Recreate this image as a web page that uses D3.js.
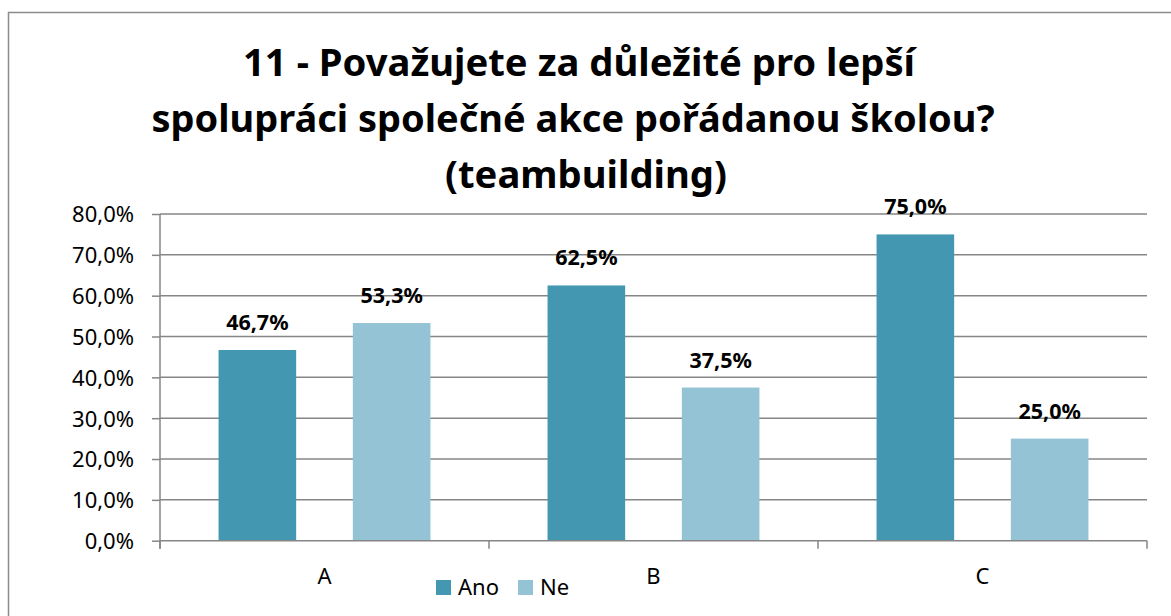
<!DOCTYPE html>
<html>
<head>
<meta charset="utf-8">
<script src="https://cdn.jsdelivr.net/npm/d3@7"></script>
<style>
  body { margin: 0; background: #fff; }
  svg { display: block; font-family: "Noto Sans", sans-serif; }
</style>
</head>
<body>
<div id="chart"></div>
<script>
// chart data
const categories = ["A", "B", "C"];
const seriesNames = ["Ano", "Ne"];
const anoValues = [46.7, 62.5, 75.0];
const neValues = [53.3, 37.5, 25.0];
const yTicks = [0, 10, 20, 30, 40, 50, 60, 70, 80];
const titleLines = [
  "11 - Považujete za důležité pro lepší",
  "spolupráci společné akce pořádanou školou?",
  "(teambuilding)"
];

function createChart() {
  const width = 1171;
  const height = 616;
  const colors = { Ano: "#4397B0", Ne: "#93C3D5" };
  const gridColor = "#868686";

  const svg = d3
    .select("#chart")
    .append("svg")
    .attr("width", width)
    .attr("height", height);

  // outer frame (cut off at the right and bottom like the original)
  svg
    .append("rect")
    .attr("x", 8.5)
    .attr("y", 12.5)
    .attr("width", width + 20)
    .attr("height", height + 20)
    .attr("fill", "none")
    .attr("stroke", "#8c8c8c")
    .attr("stroke-width", 1.5);

  // title
  const titleWidths = [672, 843, 282];
  const titleCenters = [579, 573, 586];
  svg
    .append("g")
    .selectAll("text")
    .data(titleLines)
    .join("text")
    .attr("x", (d, i) => titleCenters[i])
    .attr("y", (d, i) => 76 + i * 56)
    .attr("text-anchor", "middle")
    .attr("font-size", 38)
    .attr("font-weight", "bold")
    .attr("fill", "#000")
    .attr("textLength", (d, i) => titleWidths[i])
    .attr("lengthAdjust", "spacingAndGlyphs")
    .text((d) => d);

  const margin = { left: 160, right: 1147, top: 214, bottom: 540.7 };

  const y = d3.scaleLinear().domain([0, 80]).range([margin.bottom, margin.top]);
  const x0 = d3
    .scaleBand()
    .domain(categories)
    .range([margin.left, margin.right])
    .padding(0);
  const x1 = d3
    .scaleBand()
    .domain(seriesNames)
    .range([0, x0.bandwidth()])
    .paddingInner(0.422)
    .paddingOuter(0.436);

  const fmt = (v) => v.toFixed(1).replace(".", ",") + "%";

  // gridlines
  svg
    .append("g")
    .selectAll("line")
    .data(yTicks.filter((d) => d > 0))
    .join("line")
    .attr("x1", margin.left)
    .attr("x2", margin.right)
    .attr("y1", (d) => y(d))
    .attr("y2", (d) => y(d))
    .attr("stroke", gridColor)
    .attr("stroke-width", 1.5);

  // y axis
  const yAxis = svg
    .append("g")
    .attr("transform", `translate(${margin.left},0)`)
    .call(
      d3.axisLeft(y).tickValues(yTicks).tickSize(8).tickPadding(18).tickFormat(fmt)
    );
  yAxis.select(".domain").attr("stroke", gridColor).attr("stroke-width", 1.5)
    .attr("d", `M0,${margin.top}V${margin.bottom + 8}`);
  yAxis.selectAll(".tick line").attr("stroke", gridColor).attr("stroke-width", 1.5);
  yAxis
    .selectAll(".tick text")
    .attr("font-size", 22)
    .attr("font-family", "Noto Sans, sans-serif")
    .attr("dy", "0.36em")
    .attr("fill", "#000");

  // bars
  const rows = categories.map((c, i) => ({
    cat: c,
    values: [
      { key: "Ano", value: anoValues[i] },
      { key: "Ne", value: neValues[i] }
    ]
  }));

  const groups = svg
    .append("g")
    .selectAll("g")
    .data(rows)
    .join("g")
    .attr("transform", (d) => `translate(${x0(d.cat)},0)`);

  groups
    .selectAll("rect")
    .data((d) => d.values)
    .join("rect")
    .attr("x", (d) => x1(d.key))
    .attr("y", (d) => y(d.value))
    .attr("width", x1.bandwidth())
    .attr("height", (d) => y(0) - y(d.value))
    .attr("fill", (d) => colors[d.key]);

  groups
    .selectAll("text")
    .data((d) => d.values)
    .join("text")
    .attr("x", (d) => x1(d.key) + x1.bandwidth() / 2)
    .attr("y", (d) => y(d.value) - 20)
    .attr("text-anchor", "middle")
    .attr("font-size", 21.5)
    .attr("font-weight", "bold")
    .attr("fill", "#000")
    .text((d) => fmt(d.value));

  // x axis
  const xAxis = svg.append("g");
  xAxis
    .append("line")
    .attr("x1", margin.left)
    .attr("x2", margin.right)
    .attr("y1", margin.bottom)
    .attr("y2", margin.bottom)
    .attr("stroke", gridColor)
    .attr("stroke-width", 1.5);
  const boundaries = categories.map((c) => x0(c)).concat([margin.right]);
  xAxis
    .selectAll(".xtick")
    .data(boundaries)
    .join("line")
    .attr("class", "xtick")
    .attr("x1", (d) => d)
    .attr("x2", (d) => d)
    .attr("y1", margin.bottom)
    .attr("y2", margin.bottom + 8)
    .attr("stroke", gridColor)
    .attr("stroke-width", 1.5);
  xAxis
    .selectAll(".xlabel")
    .data(categories)
    .join("text")
    .attr("class", "xlabel")
    .attr("x", (d) => x0(d) + x0.bandwidth() / 2)
    .attr("y", 584)
    .attr("text-anchor", "middle")
    .attr("font-size", 22)
    .attr("fill", "#000")
    .text((d) => d);

  // legend
  const legendX = [436, 518];
  const legend = svg
    .append("g")
    .selectAll("g")
    .data(seriesNames)
    .join("g")
    .attr("transform", (d, i) => `translate(${legendX[i]},580)`);
  legend
    .append("rect")
    .attr("width", 15)
    .attr("height", 15)
    .attr("fill", (d) => colors[d]);
  legend
    .append("text")
    .attr("x", 22)
    .attr("y", 15)
    .attr("font-size", 22)
    .attr("fill", "#000")
    .text((d) => d);
}

document.addEventListener("DOMContentLoaded", createChart);
</script>
</body>
</html>
